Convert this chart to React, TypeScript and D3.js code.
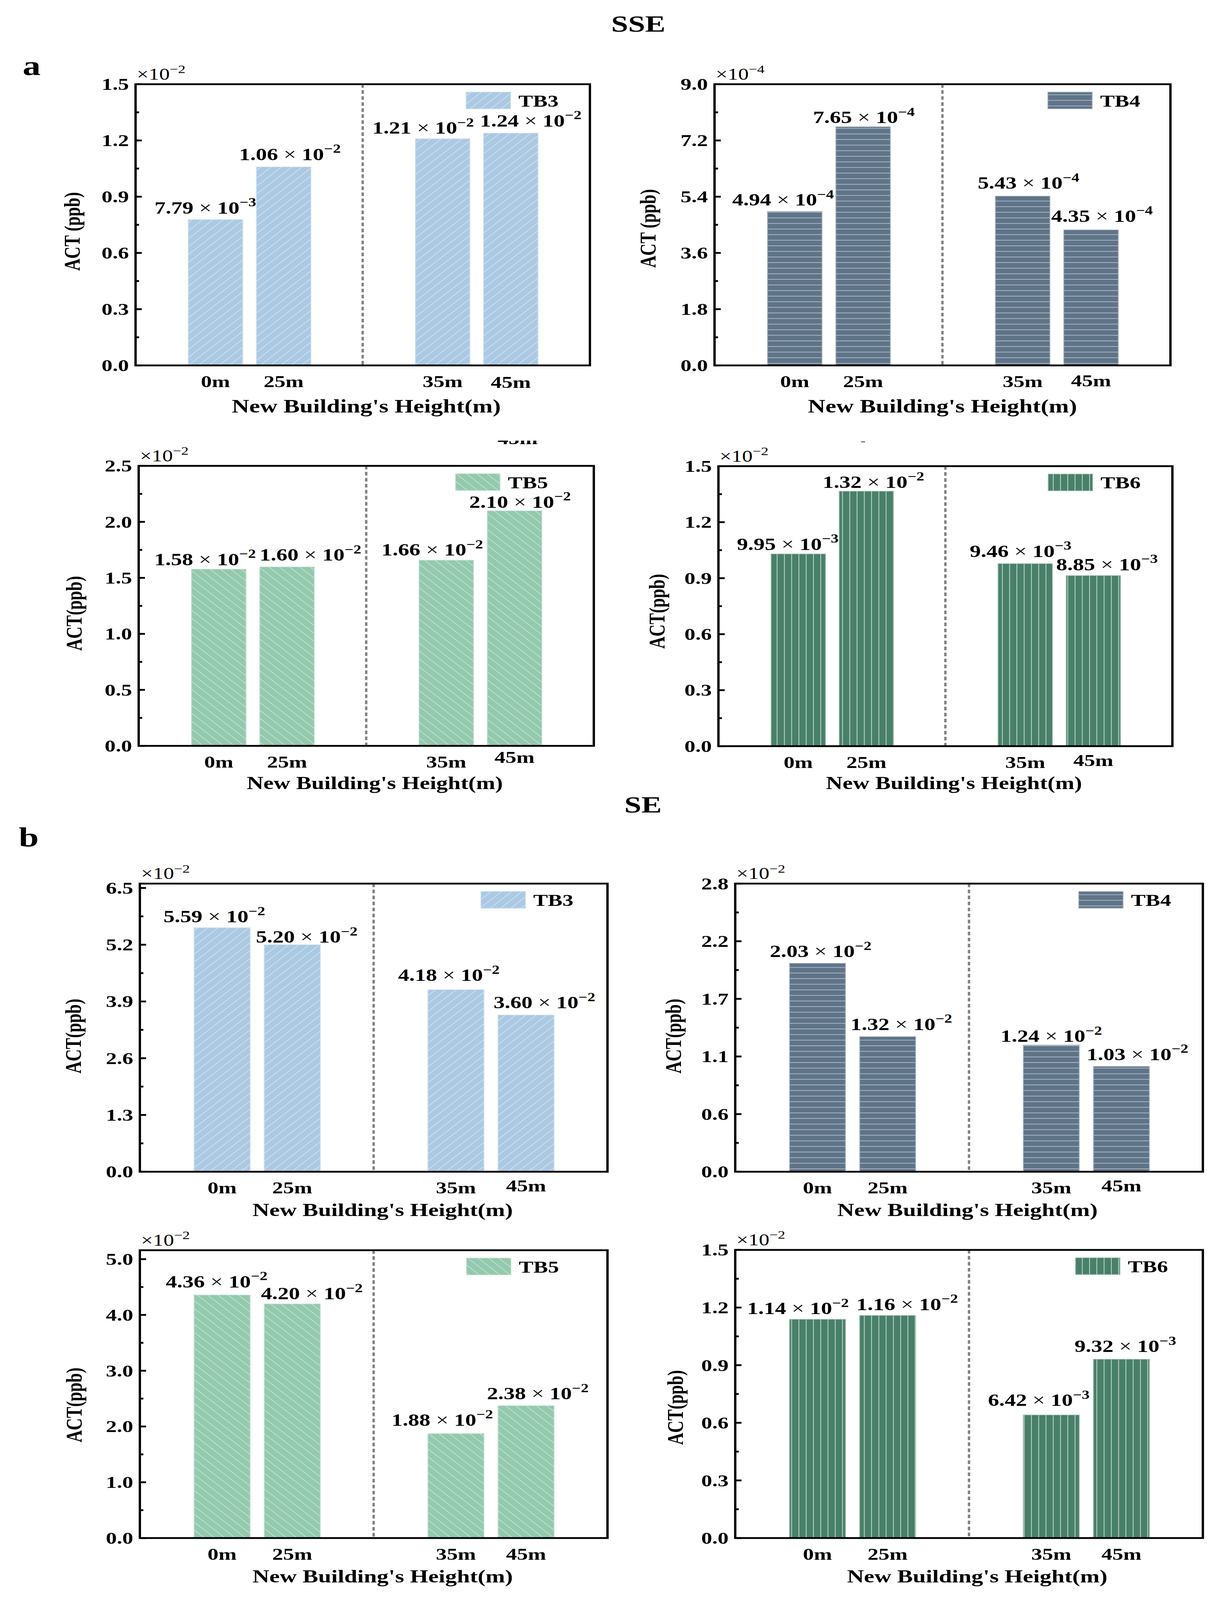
import React from 'react';
import * as d3 from 'd3';

// categories on the x axis
const heights = ['0m', '25m', '35m', '45m'];

// bar heights, in axis units (axis is ×10^n)
const sseTB3 = [0.778, 1.059, 1.209, 1.239];
const sseTB4 = [4.93, 7.64, 5.42, 4.34];
const sseTB5 = [1.578, 1.598, 1.658, 2.099];
const sseTB6 = [1.03, 1.366, 0.978, 0.914];
const seTB3 = [5.59, 5.2, 4.17, 3.59];
const seTB4 = [1.99, 1.29, 1.21, 1.006];
const seTB5 = [4.358, 4.198, 1.873, 2.373];
const seTB6 = [1.139, 1.159, 0.641, 0.931];

// printed labels above the bars: mantissa and exponent
const sseTB3Text: [string, number][] = [['7.79', -3], ['1.06', -2], ['1.21', -2], ['1.24', -2]];
const sseTB4Text: [string, number][] = [['4.94', -4], ['7.65', -4], ['5.43', -4], ['4.35', -4]];
const sseTB5Text: [string, number][] = [['1.58', -2], ['1.60', -2], ['1.66', -2], ['2.10', -2]];
const sseTB6Text: [string, number][] = [['9.95', -3], ['1.32', -2], ['9.46', -3], ['8.85', -3]];
const seTB3Text: [string, number][] = [['5.59', -2], ['5.20', -2], ['4.18', -2], ['3.60', -2]];
const seTB4Text: [string, number][] = [['2.03', -2], ['1.32', -2], ['1.24', -2], ['1.03', -2]];
const seTB5Text: [string, number][] = [['4.36', -2], ['4.20', -2], ['1.88', -2], ['2.38', -2]];
const seTB6Text: [string, number][] = [['1.14', -2], ['1.16', -2], ['6.42', -3], ['9.32', -3]];

// y ticks and their labels
const ticks15 = [0, 0.3, 0.6, 0.9, 1.2, 1.5];
const ticks15Labels = ['0.0', '0.3', '0.6', '0.9', '1.2', '1.5'];
const ticks9 = [0, 1.8, 3.6, 5.4, 7.2, 9.0];
const ticks9Labels = ['0.0', '1.8', '3.6', '5.4', '7.2', '9.0'];
const ticks25 = [0, 0.5, 1.0, 1.5, 2.0, 2.5];
const ticks25Labels = ['0.0', '0.5', '1.0', '1.5', '2.0', '2.5'];
const ticks65 = [0, 1.3, 2.6, 3.9, 5.2, 6.5];
const ticks65Labels = ['0.0', '1.3', '2.6', '3.9', '5.2', '6.5'];
const ticks28 = [0, 0.55, 1.1, 1.65, 2.2, 2.75];
const ticks28Labels = ['0.0', '0.6', '1.1', '1.7', '2.2', '2.8'];
const ticks5 = [0, 1, 2, 3, 4, 5];
const ticks5Labels = ['0.0', '1.0', '2.0', '3.0', '4.0', '5.0'];

const FONT = '"Liberation Serif", "Times New Roman", Times, serif';
const MINUS = '\u2212';

type Hatch = 'fwd' | 'back' | 'horiz' | 'vert';

const styles: Record<string, { fill: string; edge: string; line: string; hatch: Hatch }> = {
  TB3: { fill: '#abc9e3', edge: '#cfe0ef', line: 'rgba(255,255,255,0.6)', hatch: 'fwd' },
  TB4: { fill: '#5f7488', edge: '#b5c0cb', line: '#bcc6d0', hatch: 'horiz' },
  TB5: { fill: '#93c9ae', edge: '#c4e3d3', line: 'rgba(255,255,255,0.6)', hatch: 'back' },
  TB6: { fill: '#48806a', edge: '#a6c5b6', line: '#c3d6cb', hatch: 'vert' },
};

interface PanelSpec {
  id: string;
  name: string;
  values: number[];
  text: [string, number][];
  ticks: number[];
  tickLabels: string[];
  yMax: number;
  exp: number;
  box: [number, number, number, number]; // x0, y0, x1, y1
  yTitle: string;
  yTitleDx: number;
  yTitleDy: number;
  xTitleDx: number;
  xTitleDy: number;
  xTitleSize: number;
  legendRight: number;
  lastDy: number;
  labelOff: [number, number][];
}

const panels: PanelSpec[] = [
  {
    id: 'a1', name: 'TB3', values: sseTB3, text: sseTB3Text, ticks: ticks15, tickLabels: ticks15Labels,
    yMax: 1.5, exp: -2, box: [347, 280, 1510, 1215], yTitle: 'ACT (ppb)', yTitleDx: -162, yTitleDy: 22,
    xTitleDx: 9, xTitleDy: 157, xTitleSize: 62, legendRight: 203, lastDy: 3,
    labelOff: [[-26, -20], [16, -23], [-50, -17], [51, -22]],
  },
  {
    id: 'a2', name: 'TB4', values: sseTB4, text: sseTB4Text, ticks: ticks9, tickLabels: ticks9Labels,
    yMax: 9, exp: -4, box: [1829, 280, 2996, 1215], yTitle: 'ACT (ppb)', yTitleDx: -170, yTitleDy: 12,
    xTitleDx: 0, xTitleDy: 157, xTitleSize: 62, legendRight: 200, lastDy: -3,
    labelOff: [[-30, -19], [2, -12], [15, -24], [28, -27]],
  },
  {
    id: 'a3', name: 'TB5', values: sseTB5, text: sseTB5Text, ticks: ticks25, tickLabels: ticks25Labels,
    yMax: 2.5, exp: -2, box: [355, 1549, 1520, 2480], yTitle: 'ACT(ppb)', yTitleDx: -165, yTitleDy: 25,
    xTitleDx: 22, xTitleDy: 143, xTitleSize: 59, legendRight: 240, lastDy: -15,
    labelOff: [[-35, -13], [60, -21], [-36, -15], [14, -10]],
  },
  {
    id: 'a4', name: 'TB6', values: sseTB6, text: sseTB6Text, ticks: ticks15, tickLabels: ticks15Labels,
    yMax: 1.5, exp: -2, box: [1839, 1550, 3001, 2481], yTitle: 'ACT(ppb)', yTitleDx: -157, yTitleDy: 17,
    xTitleDx: 22, xTitleDy: 143, xTitleSize: 59, legendRight: 204, lastDy: -6,
    labelOff: [[-27, -13], [18, -11], [-12, -22], [35, -18]],
  },
  {
    id: 'b1', name: 'TB3', values: seTB3, text: seTB3Text, ticks: ticks65, tickLabels: ticks65Labels,
    yMax: 6.6, exp: -2, box: [358, 2938, 1555, 3896], yTitle: 'ACT(ppb)', yTitleDx: -170, yTitleDy: 28,
    xTitleDx: 23, xTitleDy: 147, xTitleSize: 60, legendRight: 210, lastDy: -6,
    labelOff: [[-20, -18], [37, -7], [-18, -29], [47, -22]],
  },
  {
    id: 'b2', name: 'TB4', values: seTB4, text: seTB4Text, ticks: ticks28, tickLabels: ticks28Labels,
    yMax: 2.75, exp: -2, box: [1882, 2938, 3079, 3896], yTitle: 'ACT(ppb)', yTitleDx: -158, yTitleDy: 28,
    xTitleDx: -4, xTitleDy: 147, xTitleSize: 60, legendRight: 204, lastDy: -6,
    labelOff: [[8, -20], [35, -22], [0, -10], [41, -21]],
  },
  {
    id: 'b3', name: 'TB5', values: seTB5, text: seTB5Text, ticks: ticks5, tickLabels: ticks5Labels,
    yMax: 5.16, exp: -2, box: [358, 4157, 1555, 5114], yTitle: 'ACT(ppb)', yTitleDx: -168, yTitleDy: 36,
    xTitleDx: 23, xTitleDy: 147, xTitleSize: 60, legendRight: 247, lastDy: 0,
    labelOff: [[-14, -25], [50, -15], [-35, -26], [30, -21]],
  },
  {
    id: 'b4', name: 'TB6', values: seTB6, text: seTB6Text, ticks: ticks15, tickLabels: ticks15Labels,
    yMax: 1.5, exp: -2, box: [1882, 4156, 3079, 5114], yTitle: 'ACT(ppb)', yTitleDx: -153, yTitleDy: 45,
    xTitleDx: 21, xTitleDy: 147, xTitleSize: 60, legendRight: 212, lastDy: 0,
    labelOff: [[-50, -17], [50, -18], [-32, -30], [10, -24]],
  },
];

// bar slots in category units; the dashed divider sits between the pairs
const slots = [1, 2, 4.333, 5.333];
const dividerAt = 3.16;
const barW = 0.8;

const Pattern = ({ id, kind }: { id: string; kind: string }) => {
  const s = styles[kind];
  const size = 18.6;
  if (s.hatch === 'horiz') {
    return (
      <pattern id={id} patternUnits="userSpaceOnUse" width={size} height={size}>
        <rect width={size} height={size} fill={s.fill} />
        <line x1={0} x2={size} y1={size - 1} y2={size - 1} stroke={s.line} strokeWidth={2} />
      </pattern>
    );
  }
  if (s.hatch === 'vert') {
    return (
      <pattern id={id} patternUnits="userSpaceOnUse" width={size} height={size}>
        <rect width={size} height={size} fill={s.fill} />
        <line y1={0} y2={size} x1={size - 1} x2={size - 1} stroke={s.line} strokeWidth={2} />
      </pattern>
    );
  }
  return (
    <pattern
      id={id}
      patternUnits="userSpaceOnUse"
      width={size}
      height={size}
      patternTransform={`rotate(${s.hatch === 'fwd' ? 45 : -45})`}
    >
      <rect width={size} height={size} fill={s.fill} />
      <line y1={0} y2={size} x1={size / 2} x2={size / 2} stroke={s.line} strokeWidth={1.6} />
    </pattern>
  );
};

const Panel = ({ p }: { p: PanelSpec }) => {
  const [x0, y0, x1, y1] = p.box;
  const x = d3.scaleLinear().domain([-0.173, 6.494]).range([x0, x1]);
  const y = d3.scaleLinear().domain([0, p.yMax]).range([y1, y0]);
  const st = styles[p.name];
  const step = p.ticks[1] - p.ticks[0];
  const minors = d3
    .range(p.ticks.length)
    .map((i) => p.ticks[i] + step / 2)
    .filter((v) => v < p.yMax);
  const pid = `pat-${p.id}`;
  const bw = x(barW) - x(0);
  const legRight = x1 - p.legendRight;
  const legTop = y0 + 26;

  return (
    <g>
      <defs>
        <Pattern id={pid} kind={p.name} />
      </defs>

      {p.values.map((v, i) => (
        <rect
          key={i}
          x={x(slots[i]) - bw / 2}
          y={y(v)}
          width={bw}
          height={y(0) - y(v)}
          fill={`url(#${pid})`}
          stroke={st.edge}
          strokeWidth={2}
        />
      ))}

      <line
        x1={x(dividerAt)}
        x2={x(dividerAt)}
        y1={y0}
        y2={y1}
        stroke="#808080"
        strokeWidth={6}
        strokeDasharray="12 8"
      />

      {/* value labels */}
      {p.text.map(([m, e], i) => (
        <text
          key={i}
          x={x(slots[i]) + p.labelOff[i][0]}
          y={y(p.values[i]) + p.labelOff[i][1]}
          textAnchor="middle"
          fontSize={57}
          fontWeight="bold"
          fontFamily={FONT}
        >
          {m}
          <tspan fontWeight="normal">{' × '}</tspan>
          10
          <tspan dy={-24} fontSize={40}>
            {MINUS + Math.abs(e)}
          </tspan>
        </text>
      ))}

      {/* legend */}
      <rect
        x={legRight - 114}
        y={legTop}
        width={114}
        height={56}
        fill={`url(#${pid})`}
        stroke={st.edge}
        strokeWidth={2}
      />
      <text x={legRight + 20} y={legTop + 48} fontSize={56} fontWeight="bold" fontFamily={FONT}>
        {p.name}
      </text>

      {/* frame */}
      <rect x={x0} y={y0} width={x1 - x0} height={y1 - y0} fill="none" stroke="#000" strokeWidth={6} />

      {/* y ticks, pointing in */}
      {p.ticks.map((t, i) => (
        <g key={t}>
          <line x1={x0} x2={x0 + 16} y1={y(t)} y2={y(t)} stroke="#000" strokeWidth={6} />
          <text
            x={x0 - 17}
            y={y(t)}
            textAnchor="end"
            dominantBaseline="central"
            fontSize={56}
            fontWeight="bold"
            fontFamily={FONT}
          >
            {p.tickLabels[i]}
          </text>
        </g>
      ))}
      {minors.map((t) => (
        <line key={t} x1={x0} x2={x0 + 9} y1={y(t)} y2={y(t)} stroke="#000" strokeWidth={6} />
      ))}

      {/* exponent above the axis */}
      <text x={x0 + 3} y={y0 - 15} fontSize={54} fontFamily={FONT}>
        ×10
        <tspan dy={-22} fontSize={38}>
          {MINUS + Math.abs(p.exp)}
        </tspan>
      </text>

      {/* x labels */}
      {heights.map((h, i) => (
        <text
          key={h}
          x={x(slots[i])}
          y={y1 + 72 + (i === 3 ? p.lastDy : 0)}
          textAnchor="middle"
          fontSize={56}
          fontWeight="bold"
          fontFamily={FONT}
        >
          {h}
        </text>
      ))}

      <text
        x={(x0 + x1) / 2 + p.xTitleDx}
        y={y1 + p.xTitleDy}
        textAnchor="middle"
        fontSize={p.xTitleSize}
        fontWeight="bold"
        fontFamily={FONT}
      >
        New Building's Height(m)
      </text>

      <text
        transform={`translate(${x0 + p.yTitleDx},${(y0 + y1) / 2 + p.yTitleDy}) rotate(-90)`}
        textAnchor="middle"
        dominantBaseline="central"
        fontSize={56}
        fontWeight="bold"
        fontFamily={FONT}
      >
        {p.yTitle}
      </text>
    </g>
  );
};

const App = () => {
  const width = 3128;
  const height = 5320;
  // the window may be shorter than the figure; fit the figure into it
  const viewH =
    typeof window !== 'undefined' && window.innerHeight > 0
      ? Math.min(height, window.innerHeight)
      : height;

  return (
    <svg
      width={width}
      height={viewH}
      viewBox={`0 0 ${width} ${height}`}
      preserveAspectRatio="none"
      style={{ position: 'absolute', left: 0, top: 0, display: 'block' }}
    >
      <rect width={width} height={height} fill="#fff" />
      <defs>
        <clipPath id="ghost">
          <rect x={1270} y={1465} width={110} height={12} />
        </clipPath>
      </defs>

      <text x={1634} y={105} textAnchor="middle" fontSize={78} fontWeight="bold" fontFamily={FONT}>
        SSE
      </text>
      <text x={1646} y={2702} textAnchor="middle" fontSize={78} fontWeight="bold" fontFamily={FONT}>
        SE
      </text>
      <text x={58} y={250} fontSize={92} fontWeight="bold" fontFamily={FONT}>
        a
      </text>
      <text x={48} y={2815} fontSize={92} fontWeight="bold" fontFamily={FONT}>
        b
      </text>

      {/* leftover fragment of a label visible above the TB5 panel */}
      <text
        x={1325}
        y={1477}
        textAnchor="middle"
        fontSize={56}
        fontWeight="bold"
        fontFamily={FONT}
        clipPath="url(#ghost)"
      >
        45m
      </text>
      <line x1={2204} x2={2214} y1={1469} y2={1469} stroke="#000" strokeWidth={2} />

      {panels.map((p) => (
        <Panel key={p.id} p={p} />
      ))}
    </svg>
  );
};

export default App;
